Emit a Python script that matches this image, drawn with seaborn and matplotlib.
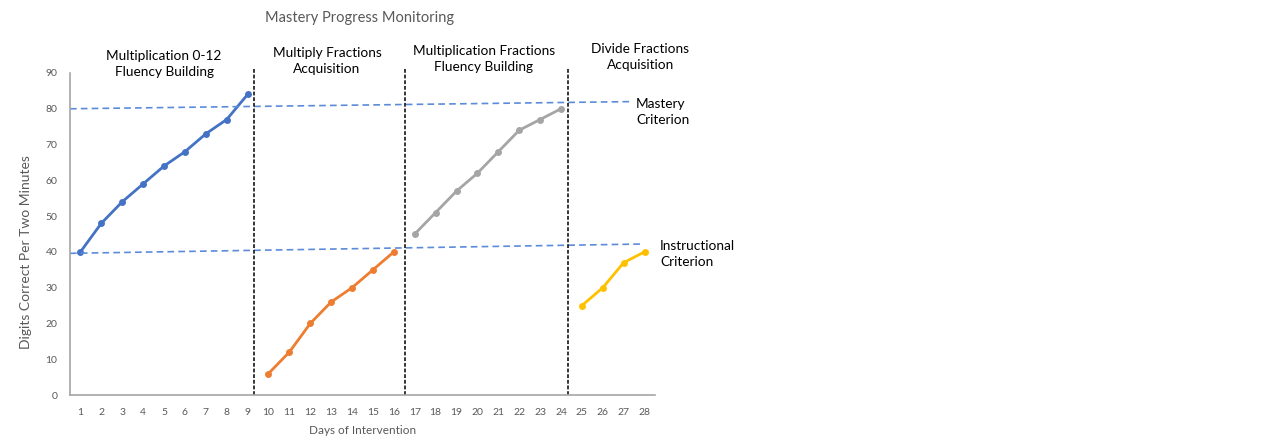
import matplotlib
matplotlib.use("Agg")
import matplotlib.pyplot as plt
import seaborn as sns
import pandas as pd

# ---- data ----
days_mult = [1, 2, 3, 4, 5, 6, 7, 8, 9]
vals_mult = [40, 48, 54, 59, 64, 68, 73, 77, 84]
days_mfa = [10, 11, 12, 13, 14, 15, 16]
vals_mfa = [6, 12, 20, 26, 30, 35, 40]
days_mff = [17, 18, 19, 20, 21, 22, 23, 24]
vals_mff = [45, 51, 57, 62, 68, 74, 77, 80]
days_dfa = [25, 26, 27, 28]
vals_dfa = [25, 30, 37, 40]

phase_names = ["Multiplication 0-12\nFluency Building",
               "Multiply Fractions\nAcquisition",
               "Multiplication Fractions\nFluency Building",
               "Divide Fractions\nAcquisition"]
phase_colors = ["#4472C4", "#ED7D31", "#A5A5A5", "#FFC000"]
phase_label_x = [5.0, 12.8, 20.3, 27.8]
phase_label_y = [92.4, 93.4, 94.0, 94.4]
phase_change_x = [9.33, 16.53, 24.35]

mastery_x = [0.5, 27.3]
mastery_y = [80, 82]
instr_x = [0.5, 27.9]
instr_y = [39.6, 42.2]

x_ticks = list(range(1, 29))
y_ticks = list(range(0, 91, 10))

# ---- build table ----
frames = []
for name, d, v in zip(phase_names, [days_mult, days_mfa, days_mff, days_dfa],
                      [vals_mult, vals_mfa, vals_mff, vals_dfa]):
    frames.append(pd.DataFrame({"day": d, "value": v, "phase": name}))
df = pd.concat(frames, ignore_index=True)

sns.set_theme(style="white")
plt.rcParams['font.family'] = ['Lato', 'DejaVu Sans']

fig = plt.figure(figsize=(12.8, 4.44), dpi=100)
ax = fig.add_axes([70 / 1280, 1 - 395 / 444, 585 / 1280, 322 / 444])

sns.lineplot(data=df, x="day", y="value", hue="phase",
             palette=dict(zip(phase_names, phase_colors)),
             marker="o", markersize=5, markeredgewidth=0, linewidth=2,
             legend=False, ax=ax)

# criterion lines
ax.plot(mastery_x, mastery_y, color="#5B8BD9", linestyle=(0, (4, 2.5)), linewidth=1.2)
ax.plot(instr_x, instr_y, color="#5B8BD9", linestyle=(0, (4, 2.5)), linewidth=1.2)

# phase change lines
for xc in phase_change_x:
    ax.plot([xc, xc], [0, 91.5], color="black", linestyle=(0, (2.5, 1.2)),
            linewidth=1.1, clip_on=False)

ax.set_xlim(0.5, 28.5)
ax.set_ylim(0, 90)
ax.set_xticks(x_ticks)
ax.set_yticks(y_ticks)
ax.tick_params(axis="both", length=0, labelsize=7.5, colors="#595959")
ax.tick_params(axis="x", pad=9)
ax.tick_params(axis="y", pad=9)
for s in ["top", "right"]:
    ax.spines[s].set_visible(False)
for s in ["left", "bottom"]:
    ax.spines[s].set_color("#A6A6A6")
    ax.spines[s].set_linewidth(1.2)

ax.set_xlabel("Days of Intervention", fontsize=8.5, color="#595959", labelpad=6)
ax.set_ylabel("Digits Correct Per Two Minutes", fontsize=10, color="#595959")
ax.yaxis.set_label_coords(-0.065, 0.444)

# phase labels
for name, xl, yl in zip(phase_names, phase_label_x, phase_label_y):
    ax.text(xl, yl, name, ha="center", va="center", fontsize=9.8,
            color="black", linespacing=1.4, clip_on=False)

ax.text(27.6, 79.1, "Mastery\nCriterion", ha="left", va="center",
        fontsize=9.8, color="black", linespacing=1.4, clip_on=False)
ax.text(28.75, 39.4, "Instructional\nCriterion", ha="left", va="center",
        fontsize=9.8, color="black", linespacing=1.4, clip_on=False)

fig.text(360 / 1280, 1 - 18 / 444, "Mastery Progress Monitoring", ha="center",
         va="center", fontsize=10.5, color="#595959")

fig.savefig("out.png", dpi=100, facecolor="white")
